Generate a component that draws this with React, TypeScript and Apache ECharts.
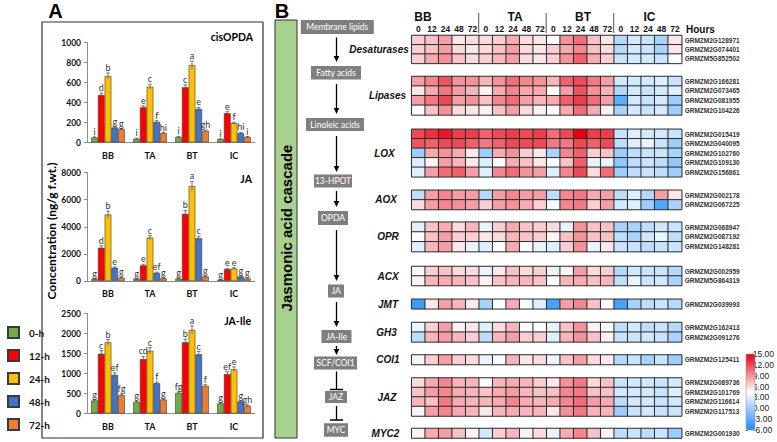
import React, { useEffect, useRef } from 'react';
import * as echarts from 'echarts';

// ---------- Panel A data ----------
const genotypes = ['BB', 'TA', 'BT', 'IC'];
const timePoints = ['0-h', '12-h', '24-h', '48-h', '72-h'];
const timeColors = ['#70ad47', '#ff0000', '#ffc000', '#4472c4', '#ed7d31'];

// each row: one genotype, values for 0,12,24,48,72 h
const cisOPDAValues = [[50, 475, 665, 150, 132], [38, 352, 558, 206, 94], [55, 552, 774, 336, 117], [34, 293, 193, 94, 55]];
const cisOPDAErrors = [[6, 20, 30, 8, 6], [5, 15, 25, 12, 6], [6, 25, 40, 15, 6], [4, 15, 10, 8, 5]];
const cisOPDALetters = [['i', 'd', 'b', 'g', 'g'], ['i', 'e', 'c', 'f', 'hi'], ['i', 'c', 'a', 'e', 'gh'], ['i', 'e', 'f', 'hi', 'i']];

const jaValues = [[150, 2450, 4900, 980, 230], [150, 1150, 3200, 600, 190], [170, 4950, 7000, 3150, 330], [80, 870, 920, 330, 180]];
const jaErrors = [[30, 150, 250, 50, 30], [30, 80, 150, 50, 30], [30, 250, 350, 150, 40], [20, 60, 60, 40, 30]];
const jaLetters = [['g', 'd', 'b', 'e', 'g'], ['g', 'e', 'c', 'ef', 'g'], ['g', 'b', 'a', 'c', 'g'], ['g', 'e', 'e', 'g', 'g']];

const jaIleValues = [[325, 1495, 1780, 965, 458], [285, 1360, 1565, 760, 350], [515, 1780, 2090, 1480, 690], [250, 985, 1105, 300, 195]];
const jaIleErrors = [[20, 80, 70, 50, 25], [20, 70, 80, 30, 20], [25, 80, 100, 70, 30], [15, 60, 60, 20, 20]];
const jaIleLetters = [['g', 'c', 'b', 'ef', 'fg'], ['g', 'cd', 'c', 'f', 'g'], ['fg', 'b', 'a', 'c', 'f'], ['g', 'ef', 'e', 'g', 'gh']];

const barTitles = ['cisOPDA', 'JA', 'JA-Ile'];
const barMax = [1000, 8000, 2500];
const barInterval = [200, 2000, 500];
const yAxisTitle = 'Concentration (ng/g f.wt.)';

// ---------- Panel B data ----------
const hourLabels = ['0', '12', '24', '48', '72'];
const cascadeSteps = ['Membrane lipids', 'Fatty acids', 'Linoleic acids', '13-HPOT', 'OPDA', 'JA', 'JA-Ile', 'SCF/COI1', 'JAZ', 'MYC'];
const cascadeTitle = 'Jasmonic acid cascade';

const desaturaseGenes = ['GRMZM2G128971', 'GRMZM2G074401', 'GRMZM5G852502'];
const desaturaseValues = [
  [6.5, 7, 8.5, 5.5, 6, 6, 6.5, 8, 6, 5.5, 4.5, 9, 10.5, 7, 5.5, 1, 2.5, 2, 0.5, 5.5],
  [6.5, 7, 8.5, 6, 5.5, 6, 7, 8.5, 6, 5.5, 6.5, 8, 9.5, 7, 6, 1, 2.5, 2, 0.5, 5.5],
  [6.5, 8, 9, 7, 6, 6.5, 7.5, 8.5, 6, 5.5, 6.5, 9, 11, 8, 6.5, 2, 2.5, 2.5, 2, 4.5],
];
const lipaseGenes = ['GRMZM2G166281', 'GRMZM2G073465', 'GRMZM2G081955', 'GRMZM2G104226'];
const lipaseValues = [
  [8.5, 9.5, 11.5, 9, 9, 7.5, 9, 10.5, 9.5, 9, 7.5, 11, 12, 10, 8.5, 2.5, 2.5, 2.5, 3, 2],
  [5.5, 8, 10, 8.5, 7.5, 5, 8, 9.5, 8, 8, 4.5, 8.5, 11.5, 9, 7.5, 1, 2.5, 2, 2.5, 3],
  [8.5, 10, 12, 8.5, 9, 7, 9.5, 10.5, 8.5, 7.5, 8, 11, 12.5, 10.5, 8.5, -3, 2.5, 2, 2.5, 0],
  [4.5, 7, 9, 6, 5.5, 5, 7, 8.5, 6, 5, 4.5, 8, 10.5, 8, 5, 0.5, 2.5, 2, 2.5, 0],
];
const loxGenes = ['GRMZM2G015419', 'GRMZM2G040095', 'GRMZM2G102760', 'GRMZM2G109130', 'GRMZM2G156861'];
const loxValues = [
  [12, 13, 14, 12.5, 12.5, 11, 12, 12.5, 12, 12.5, 10.5, 12, 15, 12.5, 12.5, 2, 3, 2.5, 2.5, 2],
  [11.5, 11, 12, 12, 11, 10, 11, 12, 12, 12, 10, 10, 12, 11, 12, 1.5, 3, 3.5, 2, 0],
  [0, 8, 9, 8, 5.5, 0, 8, 9, 6.5, 5.5, 0.5, 9.5, 11, 6.5, 7, 0, 1.5, 2, 2, 0.5],
  [3, 5, 8.5, 7.5, 5.5, 3, 4.5, 8, 7, 5.5, 4.5, 7, 11, 3.5, 3.5, -0.5, 1.5, 2, 1.5, -0.5],
  [3, 8.5, 10.5, 11, 8.5, 3, 9.5, 10.5, 9, 8.5, 3, 9.5, 12, 6, 10.5, 0, 1.5, 2, 1.5, 0],
];
const aoxGenes = ['GRMZM2G002178', 'GRMZM2G067225'];
const aoxValues = [
  [1.5, 8.5, 9.5, 8.5, 8.5, 1, 8.5, 9.5, 8.5, 8.5, 1.5, 9.5, 10, 8, 8.5, 1.5, 3, 1, 8.5, 5.5],
  [6, 8.5, 9.5, 9, 8.5, 6.5, 8.5, 9, 8, 6.5, 4, 9.5, 10, 6.5, 8.5, 2.5, 3, 0, -3.5, 0.5],
];
const oprGenes = ['GRMZM2G068947', 'GRMZM2G087192', 'GRMZM2G148281'];
const oprValues = [
  [3, 7, 8, 6, 7.5, 3.5, 6.5, 8, 7, 6.5, 6, 3.5, 9, 7, 7, 0.5, 0.5, 1.5, 2.5, 2],
  [4.5, 7, 8.5, 6.5, 6.5, 5.5, 6, 7.5, 7, 6.5, 5, 7, 9, 7, 7, 1.5, 0.5, 2.5, 3.5, 1.5],
  [3, 7.5, 8.5, 5.5, 3.5, 3, 4.5, 8, 4.5, 3.5, 3, 6.5, 9, 3.5, 5.5, 2, 2, 1.5, 2, 2],
];
const acxGenes = ['GRMZM2G002959', 'GRMZM5G864319'];
const acxValues = [
  [4, 6.5, 7, 6, 6, 3.5, 5.5, 7, 6, 6.5, 3.5, 5, 8.5, 6, 6.5, 1, 2.5, 2, 2, 1],
  [5, 7.5, 8, 7.5, 7, 5, 7, 7.5, 7.5, 7, 4.5, 7.5, 8, 7, 7.5, 1.5, 3.5, 2, 2.5, 0.5],
];
const jmtGenes = ['GRMZM2G039993'];
const jmtValues = [
  [-4.5, 5.5, 8.5, 7.5, 5.5, 0.5, 4.5, 8, 4.5, 3, -4, 8.5, 9.5, 7, 4.5, -4, 0.5, 1.5, 2, 1],
];
const gh3Genes = ['GRMZM2G162413', 'GRMZM2G091276'];
const gh3Values = [
  [3.5, 6.5, 8.5, 5, 5.5, 3, 6, 7.5, 4.5, 4.5, 3.5, 7, 9, 5, 4.5, 1.5, 2.5, 1.5, 2, 1],
  [1.5, 7.5, 8.5, 7.5, 6.5, 1.5, 7.5, 8.5, 6.5, 6.5, 3, 7.5, 9, 7, 5, 2, 2, 2.5, 2, 0.5],
];
const coi1Genes = ['GRMZM2G125411'];
const coi1Values = [
  [5, 6.5, 8.5, 6.5, 6, 3.5, 4, 7.5, 5.5, 6, 3.5, 7, 8.5, 6, 5.5, 1, 2, 0.5, 2, 0],
];
const jazGenes = ['GRMZM2G089736', 'GRMZM2G101769', 'GRMZM2G116614', 'GRMZM2G117513'];
const jazValues = [
  [6, 8, 9.5, 7.5, 7.5, 4.5, 7.5, 8, 7.5, 6.5, 5.5, 9, 10, 6, 7, 2, 2.5, 2.5, 2, 2.5],
  [7, 8.5, 9.5, 8, 7.5, 7, 8, 8.5, 7.5, 7, 7, 9.5, 10, 7, 7, 2.5, 2.5, 2.5, 2, 3],
  [7.5, 7, 10, 8, 7.5, 7.5, 8, 9.5, 8, 7.5, 8, 9.5, 10.5, 8.5, 8, 1.5, 2.5, 2.5, 2, 2.5],
  [5, 8.5, 9.5, 8, 7.5, 5.5, 7.5, 8, 7.5, 7.5, 5.5, 9, 10, 7.5, 7.5, 0, 2, 2.5, 2, 2],
];
const myc2Genes = ['GRMZM2G001930'];
const myc2Values = [
  [5, 8, 8.5, 7, 5, 2.5, 6.5, 7.5, 5, 6, 3.5, 8, 9.5, 7, 5, 1.5, 2, 1.5, 2, 0],
];
const familyNames = ['Desaturases', 'Lipases', 'LOX', 'AOX', 'OPR', 'ACX', 'JMT', 'GH3', 'COI1', 'JAZ', 'MYC2'];
const familyGenes = [desaturaseGenes, lipaseGenes, loxGenes, aoxGenes, oprGenes, acxGenes, jmtGenes, gh3Genes, coi1Genes, jazGenes, myc2Genes];
const familyValues = [desaturaseValues, lipaseValues, loxValues, aoxValues, oprValues, acxValues, jmtValues, gh3Values, coi1Values, jazValues, myc2Values];
const scaleMin = -6;
const scaleMax = 15;
const scaleStep = 3;

// ---------- layout (positions only) ----------
const barLayout = [
  { top: 42.5, height: 100, titleX: 253, titleY: 37 },
  { top: 172.5, height: 108.5, titleX: 252, titleY: 179 },
  { top: 313.5, height: 100, titleX: 251, titleY: 321 },
];
const familyLayout = [
  { top: 35.5, rowH: 9.3, labelX: 379 },
  { top: 76.5, rowH: 9.6, labelX: 387.5 },
  { top: 129.3, rowH: 9.5, labelX: 384.5 },
  { top: 190.3, rowH: 9.6, labelX: 386 },
  { top: 222.2, rowH: 9.8, labelX: 388 },
  { top: 266.5, rowH: 9.5, labelX: 388 },
  { top: 299.3, rowH: 9.5, labelX: 388 },
  { top: 322.5, rowH: 9.7, labelX: 386.5 },
  { top: 355, rowH: 9.5, labelX: 388 },
  { top: 378, rowH: 9.5, labelX: 387 },
  { top: 428.5, rowH: 9.5, labelX: 385.5 },
];
const boxLayout = [
  { cx: 337.3, cy: 27, w: 73, h: 14 },
  { cx: 336, cy: 72.7, w: 50, h: 13.5 },
  { cx: 335, cy: 124.5, w: 58, h: 13 },
  { cx: 333, cy: 181, w: 38, h: 13 },
  { cx: 333, cy: 218, w: 30, h: 14 },
  { cx: 336, cy: 291, w: 16, h: 13 },
  { cx: 336.5, cy: 336.5, w: 30, h: 13 },
  { cx: 335.5, cy: 363, w: 43, h: 13 },
  { cx: 336, cy: 397, w: 22, h: 12 },
  { cx: 336, cy: 430, w: 24, h: 13.5 },
];
const arrowLayout = [
  { y1: 37.5, y2: 62, t: false },
  { y1: 84, y2: 114, t: false },
  { y1: 136, y2: 172, t: false },
  { y1: 191, y2: 207, t: false },
  { y1: 230, y2: 281, t: false },
  { y1: 302, y2: 327, t: false },
  { y1: 346, y2: 355, t: false },
  { y1: 371.5, y2: 389.5, t: true },
  { y1: 406, y2: 420, t: true },
];
const groupLabelX = [423, 515, 583, 649.5];
const separatorX = [478.7, 546.2, 613.7];

const FA = 'Lato, "Open Sans", sans-serif';
const FB = '"Liberation Sans", Arial, sans-serif';

function buildOption() {
  const grid: any[] = [];
  const xAxis: any[] = [];
  const yAxis: any[] = [];
  const series: any[] = [];
  const graphic: any[] = [];

  const barData = [
    { values: cisOPDAValues, errors: cisOPDAErrors, letters: cisOPDALetters },
    { values: jaValues, errors: jaErrors, letters: jaLetters },
    { values: jaIleValues, errors: jaIleErrors, letters: jaIleLetters },
  ];

  barData.forEach((bd, c) => {
    const L = barLayout[c];
    grid.push({ left: 87, top: L.top, width: 168, height: L.height });
    xAxis.push({
      type: 'category', gridIndex: c, data: genotypes,
      axisLine: { lineStyle: { color: '#8c8c8c' } },
      axisTick: { length: 4, lineStyle: { color: '#8c8c8c' } },
      axisLabel: { fontFamily: FA, fontWeight: 'bold', fontSize: 9, color: '#111', margin: 8 },
    });
    yAxis.push({
      type: 'value', gridIndex: c, min: 0, max: barMax[c], interval: barInterval[c],
      axisLine: { show: true, lineStyle: { color: '#8c8c8c' } },
      axisTick: { show: true, length: 3, lineStyle: { color: '#8c8c8c' } },
      splitLine: { show: false },
      axisLabel: { fontFamily: FA, fontWeight: 'bold', fontSize: 8.5, color: '#111', margin: 6, formatter: (v: number) => String(v) },
    });
    timePoints.forEach((tp, k) => {
      series.push({
        type: 'bar', name: tp, xAxisIndex: c, yAxisIndex: c,
        data: bd.values.map((g) => g[k]),
        barGap: '0%', barCategoryGap: '20%', silent: true,
        itemStyle: { color: timeColors[k], borderColor: '#3a3a3a', borderWidth: 0.6 },
      });
    });
    graphic.push({
      type: 'text', x: L.titleX, y: L.titleY,
      style: { text: barTitles[c], font: `bold 10.5px ${FA}`, fill: '#000', textAlign: 'right', textVerticalAlign: 'middle', align: 'right', verticalAlign: 'middle' },
    });
  });

  barData.forEach((bd, c) => {
    const items: number[][] = [];
    const letters: string[] = [];
    bd.values.forEach((g, gi) => g.forEach((v, k) => {
      items.push([gi, k, v, bd.errors[gi][k]]);
      letters.push(bd.letters[gi][k]);
    }));
    series.push({
      type: 'custom', xAxisIndex: c, yAxisIndex: c, silent: true, clip: false, z: 5,
      encode: { x: 0, y: 2 },
      data: items,
      renderItem: (params: any, api: any) => {
        const cat = api.value(0);
        const k = api.value(1);
        const v = api.value(2);
        const e = api.value(3);
        const catW = api.size([1, 0])[0];
        const bw = (catW * 0.8) / 5;
        const cx = api.coord([cat, 0])[0] + (k - 2) * bw;
        const yT = api.coord([cat, v + e])[1];
        const yB = api.coord([cat, Math.max(0, v - e)])[1];
        return {
          type: 'group',
          children: [
            { type: 'line', shape: { x1: cx, y1: yB, x2: cx, y2: yT }, style: { stroke: '#555', lineWidth: 0.8 } },
            { type: 'line', shape: { x1: cx - 1.8, y1: yT, x2: cx + 1.8, y2: yT }, style: { stroke: '#555', lineWidth: 0.8 } },
            {
              type: 'text', x: cx, y: yT - 1,
              style: { text: letters[params.dataIndex], font: `9px ${FA}`, fill: '#333', textAlign: 'center', textVerticalAlign: 'bottom', align: 'center', verticalAlign: 'bottom' },
            },
          ],
        };
      },
    });
  });

  // heatmaps
  const heatColumns = genotypes.flatMap((g) => hourLabels.map((h) => `${g} ${h}`));
  const heatIdx: number[] = [];
  familyNames.forEach((name, f) => {
    const gi = 3 + f;
    const L = familyLayout[f];
    const genes = familyGenes[f];
    const vals = familyValues[f];
    grid.push({ left: 411.7, width: 270, top: L.top, height: L.rowH * genes.length });
    xAxis.push({
      type: 'category', gridIndex: gi, data: heatColumns, show: f === 0, position: 'top',
      axisLine: { show: false }, axisTick: { show: false }, splitLine: { show: false },
      axisLabel: { interval: 0, fontFamily: FB, fontWeight: 'bold', fontSize: 8.5, color: '#111', margin: 2.5, formatter: (v: string) => v.split(' ')[1] },
    });
    yAxis.push({
      type: 'category', gridIndex: gi, data: genes, inverse: true, position: 'right',
      axisLine: { show: false }, axisTick: { show: false }, splitLine: { show: false },
      axisLabel: { interval: 0, fontFamily: FB, fontWeight: 'bold', fontSize: 6.5, color: '#333', margin: 3 },
    });
    heatIdx.push(series.length);
    series.push({
      type: 'heatmap', xAxisIndex: gi, yAxisIndex: gi, silent: true,
      data: vals.flatMap((row, r) => row.map((v, cIdx) => [cIdx, r, v])),
      itemStyle: { borderColor: '#2a2a2a', borderWidth: 1 },
      emphasis: { disabled: true },
    });
    graphic.push({
      type: 'text', x: L.labelX, y: L.top + (L.rowH * genes.length) / 2,
      style: { text: name, font: `italic bold 10px ${FB}`, fill: '#111', textAlign: 'center', textVerticalAlign: 'middle', align: 'center', verticalAlign: 'middle' },
    });
  });

  // colour bar axis
  const cbi = grid.length;
  grid.push({ left: 746, top: 354, width: 9, height: 76 });
  xAxis.push({ type: 'value', gridIndex: cbi, show: false, min: 0, max: 1 });
  yAxis.push({
    type: 'value', gridIndex: cbi, min: scaleMin, max: scaleMax, interval: scaleStep, position: 'right',
    axisLine: { show: false }, splitLine: { show: false },
    axisTick: { show: true, length: 2, lineStyle: { color: '#444' } },
    axisLabel: { fontFamily: FB, fontSize: 8.5, color: '#222', margin: 3, formatter: (v: number) => v.toFixed(2) },
  });
  series.push({ type: 'line', xAxisIndex: cbi, yAxisIndex: cbi, data: [], silent: true });

  // ---- graphics ----
  graphic.push({ type: 'rect', shape: { x: 42, y: 22, width: 221, height: 416 }, style: { fill: 'none', stroke: '#333', lineWidth: 1.2 } });
  graphic.push({ type: 'text', x: 55.5, y: 10.5, style: { text: 'A', font: `bold 20px ${FB}`, fill: '#000', textAlign: 'center', textVerticalAlign: 'middle', align: 'center', verticalAlign: 'middle' } });
  graphic.push({ type: 'text', x: 282, y: 10.5, style: { text: 'B', font: `bold 20px ${FB}`, fill: '#000', textAlign: 'center', textVerticalAlign: 'middle', align: 'center', verticalAlign: 'middle' } });
  graphic.push({ type: 'text', x: 51, y: 231, rotation: Math.PI / 2, style: { text: yAxisTitle, font: `bold 12px ${FA}`, fill: '#000', textAlign: 'center', textVerticalAlign: 'middle', align: 'center', verticalAlign: 'middle' } });

  // cascade bar
  graphic.push({ type: 'rect', shape: { x: 275, y: 20, width: 22, height: 418 }, style: { fill: '#a9d18e', stroke: '#333', lineWidth: 1 } });
  graphic.push({ type: 'text', x: 286.5, y: 228, rotation: Math.PI / 2, style: { text: cascadeTitle, font: `bold 15px ${FB}`, fill: '#000', textAlign: 'center', textVerticalAlign: 'middle', align: 'center', verticalAlign: 'middle' } });

  cascadeSteps.forEach((s, i) => {
    const b = boxLayout[i];
    graphic.push({ type: 'rect', shape: { x: b.cx - b.w / 2, y: b.cy - b.h / 2, width: b.w, height: b.h }, style: { fill: '#7f7f7f' } });
    graphic.push({ type: 'text', x: b.cx, y: b.cy, style: { text: s, font: `8.5px ${FA}`, fill: '#fff', textAlign: 'center', textVerticalAlign: 'middle', align: 'center', verticalAlign: 'middle' } });
  });
  const ax = 336.5;
  arrowLayout.forEach((a) => {
    if (a.t) {
      graphic.push({ type: 'line', shape: { x1: ax, y1: a.y1, x2: ax, y2: a.y2 }, style: { stroke: '#000', lineWidth: 1.3 } });
      graphic.push({ type: 'line', shape: { x1: ax - 6.5, y1: a.y2, x2: ax + 6.5, y2: a.y2 }, style: { stroke: '#000', lineWidth: 1.5 } });
    } else {
      graphic.push({ type: 'line', shape: { x1: ax, y1: a.y1, x2: ax, y2: a.y2 - 5 }, style: { stroke: '#000', lineWidth: 1.3 } });
      graphic.push({ type: 'polygon', shape: { points: [[ax - 2.8, a.y2 - 6], [ax + 2.8, a.y2 - 6], [ax, a.y2]] }, style: { fill: '#000' } });
    }
  });

  // heatmap header
  genotypes.forEach((g, i) => {
    graphic.push({ type: 'text', x: groupLabelX[i], y: 16.5, style: { text: g, font: `bold 12px ${FB}`, fill: '#111', textAlign: 'center', textVerticalAlign: 'middle', align: 'center', verticalAlign: 'middle' } });
  });
  separatorX.forEach((x) => {
    graphic.push({ type: 'line', shape: { x1: x, y1: 13, x2: x, y2: 33 }, style: { stroke: '#555', lineWidth: 1 } });
  });
  graphic.push({ type: 'text', x: 686, y: 29.5, style: { text: 'Hours', font: `bold 10px ${FB}`, fill: '#111', textAlign: 'left', textVerticalAlign: 'middle', align: 'left', verticalAlign: 'middle' } });
  graphic.push({ type: 'rect', shape: { x: 746, y: 354, width: 9, height: 76 }, style: { fill: 'none', stroke: '#999', lineWidth: 0.6 }, z: 100 });

  return {
    animation: false,
    backgroundColor: '#ffffff',
    grid, xAxis, yAxis, series, graphic,
    legend: {
      data: timePoints, orient: 'vertical', left: 2, top: 321, itemWidth: 11, itemHeight: 11, itemGap: 10,
      icon: 'rect', selectedMode: false,
      textStyle: { fontFamily: FA, fontWeight: 'bold', fontSize: 10, color: '#111', padding: [0, 0, 0, 5] },
    },
    visualMap: {
      type: 'continuous', min: scaleMin, max: scaleMax, seriesIndex: heatIdx,
      inRange: { color: ['#1a8cff', '#ffffff', '#e60012'] },
      calculable: false, orient: 'vertical', left: 746, top: 354, itemWidth: 9, itemHeight: 76,
      padding: 0, text: null, hoverLink: false, show: true,
    },
  };
}

export default function App() {
  const ref = useRef<HTMLDivElement>(null);
  useEffect(() => {
    const chart = echarts.init(ref.current as HTMLDivElement, null, { renderer: 'svg' });
    chart.setOption(buildOption() as any);
    return () => chart.dispose();
  }, []);
  return <div ref={ref} style={{ position: 'absolute', left: 0, top: 0, width: 777, height: 442, background: '#fff' }} />;
}
